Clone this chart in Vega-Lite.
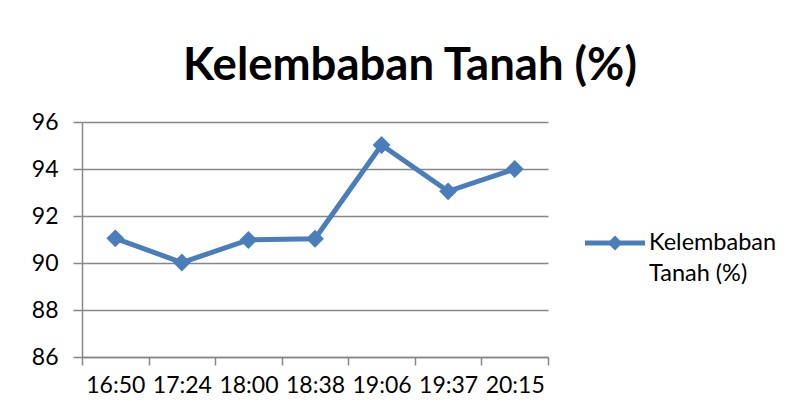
{
  "$schema": "https://vega.github.io/schema/vega-lite/v6.json",
  "width": 466,
  "height": 235,
  "autosize": {"type": "none"},
  "padding": {"left": 82, "top": 122, "right": 247, "bottom": 60},
  "background": "white",
  "title": {
    "text": "Kelembaban Tanah (%)",
    "font": "Lato",
    "fontSize": 45.5,
    "fontWeight": "bold",
    "color": "black",
    "anchor": "middle",
    "frame": "group",
    "baseline": "alphabetic",
    "dx": 95,
    "dy": 42,
    "offset": 28
  },
  "data": {
    "values": [
      {"time": "16:50", "value": 91.05, "series": "Kelembaban Tanah (%)"},
      {"time": "17:24", "value": 90.02, "series": "Kelembaban Tanah (%)"},
      {"time": "18:00", "value": 90.98, "series": "Kelembaban Tanah (%)"},
      {"time": "18:38", "value": 91.03, "series": "Kelembaban Tanah (%)"},
      {"time": "19:06", "value": 95.02, "series": "Kelembaban Tanah (%)"},
      {"time": "19:37", "value": 93.05, "series": "Kelembaban Tanah (%)"},
      {"time": "20:15", "value": 94.0, "series": "Kelembaban Tanah (%)"}
    ]
  },
  "encoding": {
    "x": {
      "field": "time",
      "type": "ordinal",
      "sort": null,
      "scale": {"paddingInner": 0, "paddingOuter": 0},
      "axis": {
        "title": null,
        "labelAngle": 0,
        "tickBand": "extent",
        "tickSize": 8,
        "tickColor": "#878787",
        "tickWidth": 1.5,
        "domainColor": "#878787",
        "domainWidth": 1.5,
        "labelFont": "Lato",
        "labelFontSize": 23,
        "labelColor": "black",
        "labelPadding": 9,
        "grid": false
      }
    },
    "y": {
      "field": "value",
      "type": "quantitative",
      "scale": {"domain": [86, 96], "nice": false, "zero": false},
      "axis": {
        "title": null,
        "values": [86, 88, 90, 92, 94, 96],
        "tickSize": 9,
        "tickColor": "#878787",
        "tickWidth": 1.5,
        "domainColor": "#878787",
        "domainWidth": 1.5,
        "gridColor": "#878787",
        "gridWidth": 1.5,
        "labelFont": "Lato",
        "labelFontSize": 23,
        "labelColor": "black",
        "labelPadding": 15
      }
    },
    "color": {
      "field": "series",
      "type": "nominal",
      "scale": {"range": ["#4A7EBB"]},
      "legend": {
        "title": null,
        "orient": "none",
        "legendX": 503,
        "legendY": 91,
        "symbolType": "M-1,-0.083H1V0.083H-1Z M0,-0.25L0.25,0L0,0.25L-0.25,0Z",
        "symbolSize": 3600,
        "symbolStrokeWidth": 0,
        "symbolFillColor": "#4A7EBB",
        "symbolOpacity": 1,
        "labelFont": "Lato",
        "labelFontSize": 23.5,
        "labelColor": "black",
        "labelExpr": "['Kelembaban', 'Tanah (%)']",
        "labelBaseline": "middle",
        "labelOffset": 4,
        "labelLimit": 300
      }
    }
  },
  "layer": [
    {"mark": {"type": "line", "strokeWidth": 5}},
    {"mark": {"type": "point", "shape": "diamond", "filled": true, "size": 320, "opacity": 1}}
  ],
  "config": {
    "view": {"stroke": null},
    "style": {"guide-label": {"lineHeight": 31}}
  }
}
